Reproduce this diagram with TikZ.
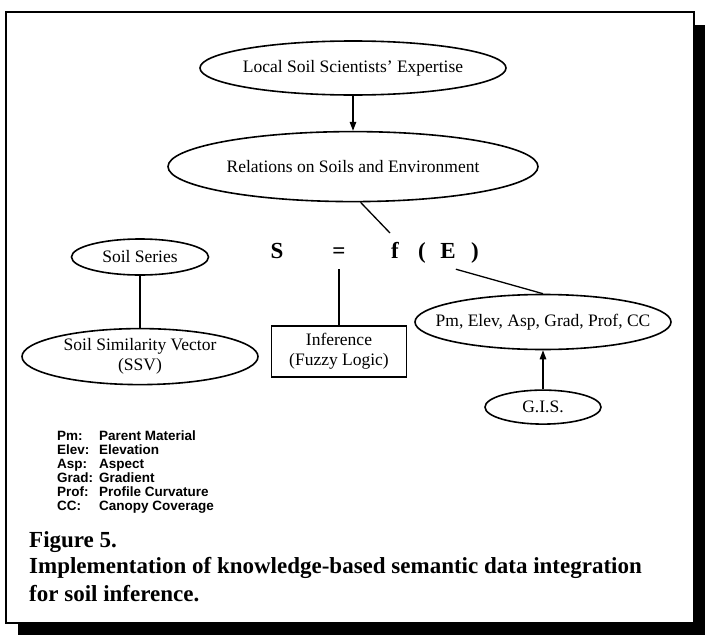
\documentclass[tikz,border=0pt]{standalone}
\usepackage{fontspec}
\setmainfont{Liberation Serif}
\newfontfamily\legfont{Liberation Sans}
\usetikzlibrary{shapes.geometric,arrows.meta,positioning}

\tikzset{
  oval/.style={draw, ellipse, line width=1.6pt, inner sep=-30pt, align=center,
    font=\fontsize{17.5}{20}\selectfont},
  fbox/.style={draw, rectangle, line width=1.5pt, minimum width=135pt,
    minimum height=51pt, align=center, font=\fontsize{17.5}{20}\selectfont},
  eqn/.style={inner sep=0pt, text height=15pt, text depth=5pt, minimum height=32pt,
    font=\bfseries\fontsize{23}{25}\selectfont},
  link/.style={line width=1.3pt},
  arr/.style={link, -{Triangle[length=9pt,width=6.5pt]}},
  legend/.style={anchor=base west, inner sep=0pt, text height=9.5pt, text depth=2.5pt,
    font=\legfont\bfseries\fontsize{13.5}{14}\selectfont},
  caption/.style={anchor=west, inner sep=0pt, font=\bfseries\fontsize{23}{25}\selectfont}
}

\begin{document}
\begin{tikzpicture}[x=1pt,y=-1pt]

  \useasboundingbox (0,0) rectangle (705,635);

  % Frame
  \fill (18,25) rectangle (705,635);
  \draw[line width=1.5pt, fill=white] (6,12) rectangle (694,623);

  % Nodes

  \node[oval, minimum width=306pt, minimum height=54pt] (expert) at (353,68) {Local Soil Scientists' Expertise};
  \node[oval, minimum width=370pt, minimum height=70pt, below=35pt of expert] (relation) {Relations on Soils and Environment};

  \node[eqn] (S) at (277,253) {S};
  \node[eqn] (eq) at (339,253) {=};
  \node[eqn] (f) at (395,253) {f};
  \node[eqn] (lp) at (422,253) {(};
  \node[eqn] (E) at (448,253) {E};
  \node[eqn] (rp) at (475,253) {)};

  \node[oval, minimum width=137pt, minimum height=36pt] (series) at (140,257) {Soil Series};
  \node[oval, minimum width=236pt, minimum height=56pt, below=52pt of series] (ssv) {Soil Similarity Vector\\(SSV)};

  \node[fbox] (infer) at (339,351.5) {Inference\\(Fuzzy Logic)};

  \node[oval, minimum width=256pt, minimum height=55pt] (env) at (543,322) {Pm, Elev, Asp, Grad, Prof, CC};
  \node[oval, minimum width=116pt, minimum height=34pt, below=39pt of env] (gis) {G.I.S.};

  \coordinate (f_in) at (390,233);

  % Edges

  \draw[arr] (expert) -- (relation);
  \draw[link] (relation.-78) -- (f_in);
  \draw[link] (eq) -- (infer);
  \draw[link] (E.south east) -- (env.north);
  \draw[link] (series) -- (ssv);
  \draw[arr] (gis) -- (env);

  % Legend

  \foreach \ab/\txt [count=\i] in {Pm/Parent Material, Elev/Elevation, Asp/Aspect,
      Grad/Gradient, Prof/Profile Curvature, CC/Canopy Coverage} {
    \node[legend] (ab\i) at (57,426+14*\i) {\ab:};
    \node[legend] (tx\i) at (99,426+14*\i) {\txt};
  }

  % Caption

  \node[caption] (fig) at (29,542) {Figure 5.};
  \node[caption] (cap1) at (29,568) {Implementation of knowledge-based semantic data integration};
  \node[caption] (cap2) at (29,594) {for soil inference.};

\end{tikzpicture}
\end{document}
